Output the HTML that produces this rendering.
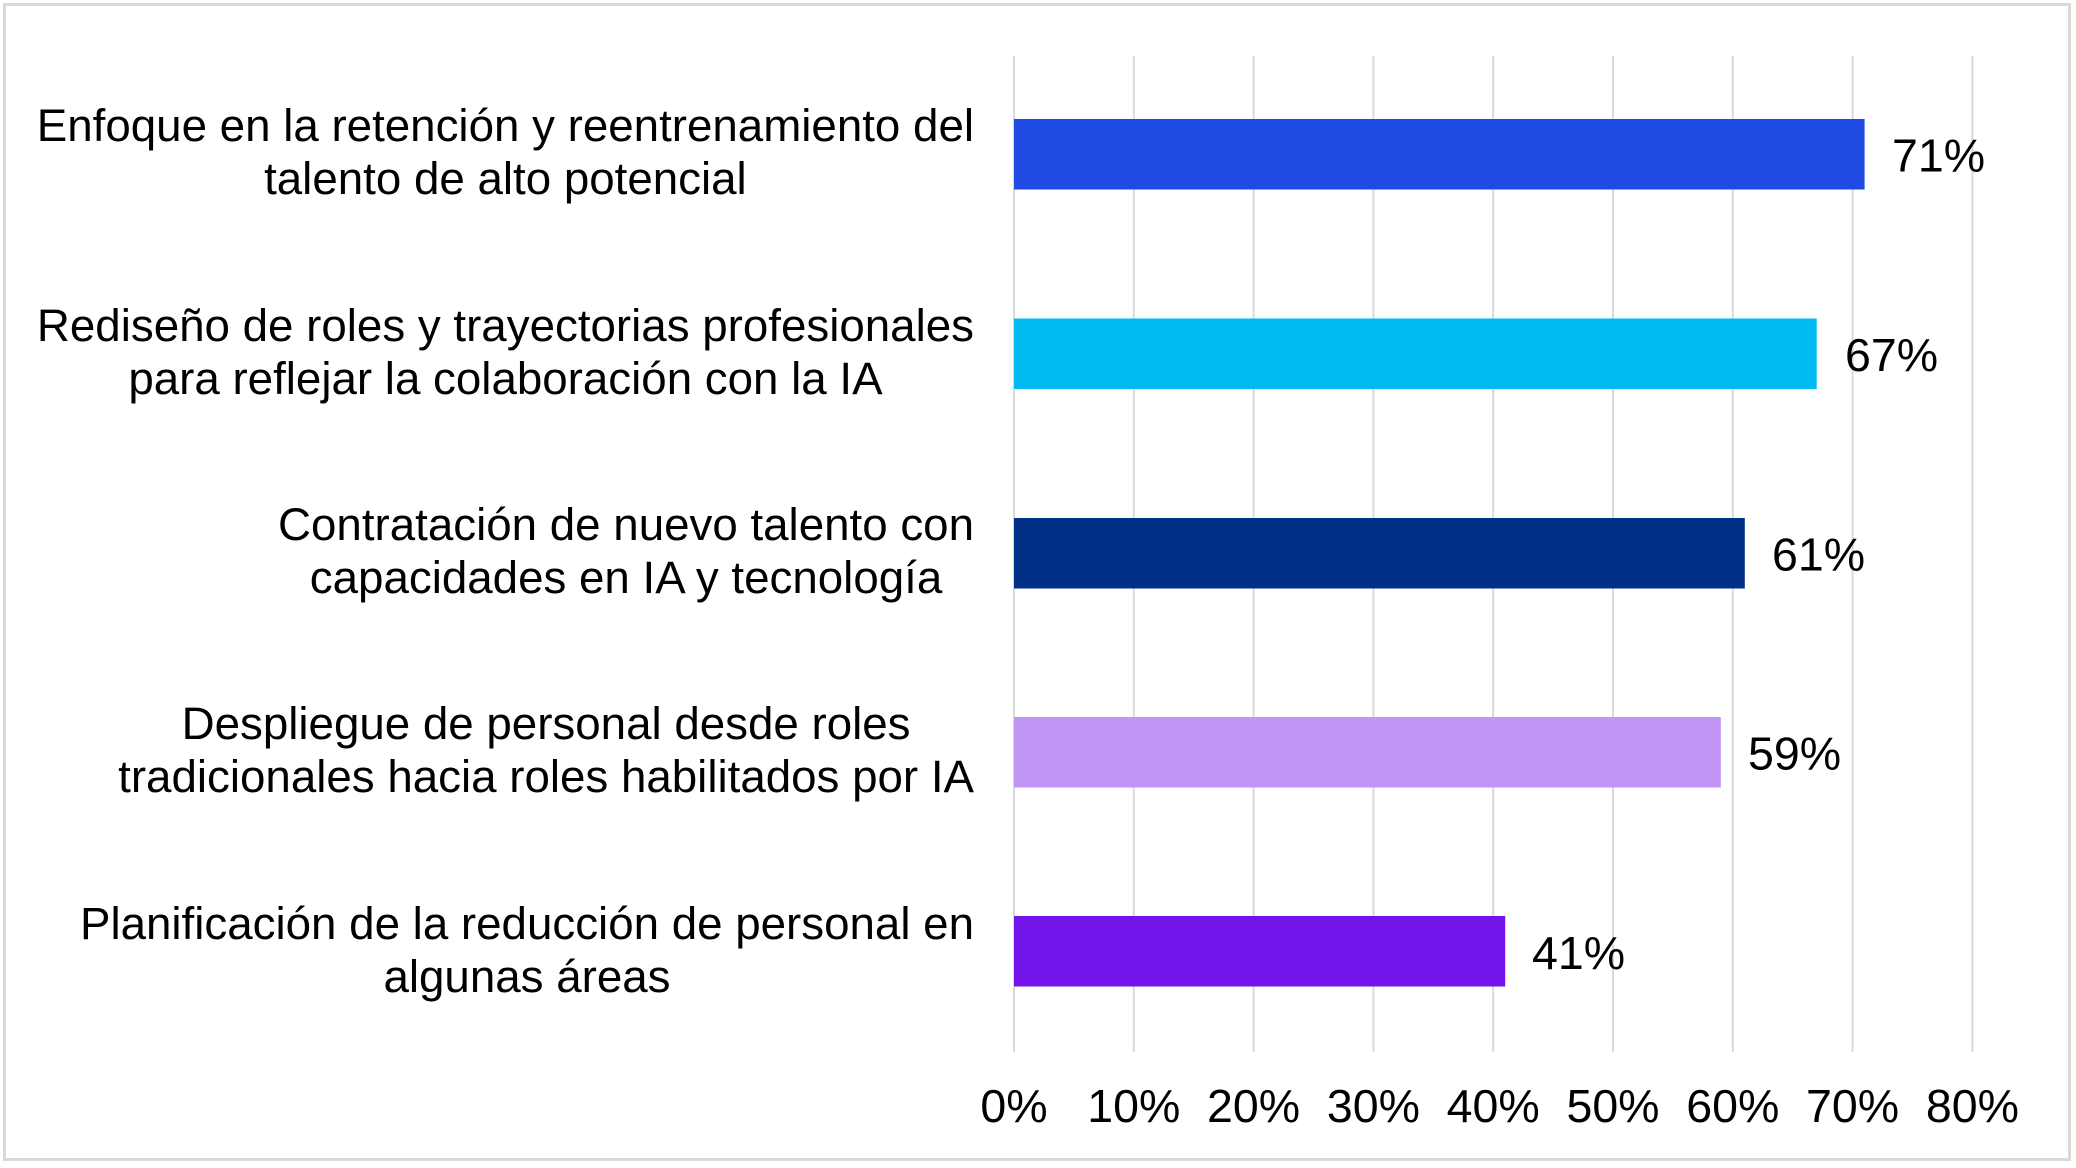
<!DOCTYPE html>
<html>
<head>
<meta charset="utf-8">
<style>
  html, body { margin:0; padding:0; background:#ffffff; }
  body { width:2076px; height:1168px; position:relative; overflow:hidden; font-family:"Liberation Sans", Arial, sans-serif; }
  svg { position:absolute; left:0; top:0; }
  .lbl { position:absolute; right:1102px; white-space:nowrap; text-align:center; font-size:45.7px; line-height:53px; color:#000; }
</style>
</head>
<body>
<svg width="2076" height="1168" viewBox="0 0 2076 1168" xmlns="http://www.w3.org/2000/svg">
  <rect x="4.5" y="4.5" width="2065" height="1155" fill="#ffffff" stroke="#d9d9d9" stroke-width="3"/>
  <g stroke="#d9d9d9" stroke-width="2">
    <line x1="1014" y1="56" x2="1014" y2="1052"/>
    <line x1="1133.8" y1="56" x2="1133.8" y2="1052"/>
    <line x1="1253.6" y1="56" x2="1253.6" y2="1052"/>
    <line x1="1373.4" y1="56" x2="1373.4" y2="1052"/>
    <line x1="1493.2" y1="56" x2="1493.2" y2="1052"/>
    <line x1="1613" y1="56" x2="1613" y2="1052"/>
    <line x1="1732.8" y1="56" x2="1732.8" y2="1052"/>
    <line x1="1852.6" y1="56" x2="1852.6" y2="1052"/>
    <line x1="1972.4" y1="56" x2="1972.4" y2="1052"/>
  </g>
  <rect x="1014" y="119" width="850.6" height="70.5" fill="#1f4ae3"/>
  <rect x="1014" y="318.5" width="802.7" height="70.5" fill="#00baf2"/>
  <rect x="1014" y="518" width="730.8" height="70.5" fill="#003087"/>
  <rect x="1014" y="717" width="706.8" height="70.5" fill="#c195f5"/>
  <rect x="1014" y="916" width="491.2" height="70.5" fill="#7213ea"/>
  <g font-family="Liberation Sans, Arial, sans-serif" font-size="46.5" fill="#000">
    <text x="1892" y="171.5">71%</text>
    <text x="1845" y="371">67%</text>
    <text x="1772" y="570.5">61%</text>
    <text x="1748" y="769.5">59%</text>
    <text x="1532" y="969">41%</text>
  </g>
  <g font-family="Liberation Sans, Arial, sans-serif" font-size="46.5" fill="#000" text-anchor="middle">
    <text x="1014" y="1122">0%</text>
    <text x="1133.8" y="1122">10%</text>
    <text x="1253.6" y="1122">20%</text>
    <text x="1373.4" y="1122">30%</text>
    <text x="1493.2" y="1122">40%</text>
    <text x="1613" y="1122">50%</text>
    <text x="1732.8" y="1122">60%</text>
    <text x="1852.6" y="1122">70%</text>
    <text x="1972.4" y="1122">80%</text>
  </g>
</svg>
<div class="lbl" style="top:99px;">Enfoque en la retención y reentrenamiento del<br>talento de alto potencial</div>
<div class="lbl" style="top:298.5px;">Rediseño de roles y trayectorias profesionales<br>para reflejar la colaboración con la IA</div>
<div class="lbl" style="top:498px;">Contratación de nuevo talento con<br>capacidades en IA y tecnología</div>
<div class="lbl" style="top:697px;">Despliegue de personal desde roles<br>tradicionales hacia roles habilitados por IA</div>
<div class="lbl" style="top:896.5px;">Planificación de la reducción de personal en<br>algunas áreas</div>
</body>
</html>
